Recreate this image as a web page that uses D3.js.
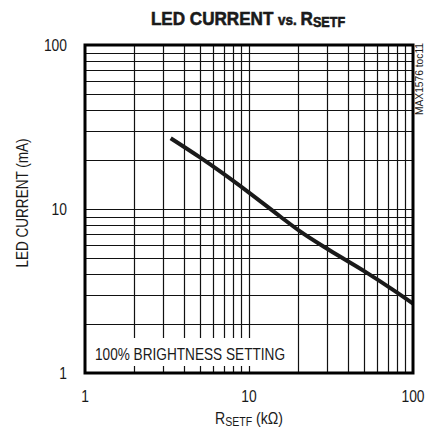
<!DOCTYPE html>
<html>
<head>
<meta charset="utf-8">
<script src="https://cdn.jsdelivr.net/npm/d3@7/dist/d3.min.js"></script>
<style>
  body { margin: 0; background: #fff; }
  svg text { font-family: "Liberation Sans", Arial, sans-serif; fill: #1a1a1a; }
</style>
</head>
<body>
<svg id="chart" width="425" height="434"></svg>
<script>
// LED current vs RSETF, log-log
const rSetf = [3.33, 5.0, 6.7, 10, 15.5, 20.5, 31, 51, 76, 100];
const ledCurrent = [27, 20.7, 16.9, 12.6, 9.0, 7.3, 5.6, 4.15, 3.2, 2.65];
const xTicks = [1, 10, 100];
const yTicks = [1, 10, 100];
const xTickLabels = ["1", "10", "100"];
const yTickLabels = ["1", "10", "100"];

const svg = d3.select("#chart");
const plotL = 85, plotR = 413, plotT = 45, plotB = 373;
const NARROW = 0.84; // fake condensed face

const x = d3.scaleLog().domain([1, 100]).range([plotL, plotR]);
const y = d3.scaleLog().domain([1, 100]).range([plotB, plotT]);

// narrow text anchored at (px, py)
function narrowText(parent, px, py, sx = NARROW) {
  return parent.append("text")
    .attr("transform", `translate(${px},${py}) scale(${sx},1)`);
}

// minor grid values 2..9, 10..90
const gridVals = [];
[1, 10].forEach((d) => {
  for (let k = 2; k <= 9; k++) gridVals.push(k * d);
});
gridVals.push(10);

const grid = svg.append("g");
grid.selectAll("line.v")
  .data(gridVals)
  .join("line")
  .attr("class", "v")
  .attr("x1", (d) => Math.round(x(d)) + 0.5)
  .attr("x2", (d) => Math.round(x(d)) + 0.5)
  .attr("y1", plotT)
  .attr("y2", plotB)
  .attr("stroke", "#111")
  .attr("stroke-width", 1.2);

grid.selectAll("line.h")
  .data(gridVals)
  .join("line")
  .attr("class", "h")
  .attr("y1", (d) => Math.round(y(d)) + 0.5)
  .attr("y2", (d) => Math.round(y(d)) + 0.5)
  .attr("x1", plotL)
  .attr("x2", plotR)
  .attr("stroke", "#111")
  .attr("stroke-width", 1.2);

// label box masks the grid
svg.append("rect")
  .attr("x", plotL + 2)
  .attr("y", 338)
  .attr("width", 204)
  .attr("height", 28)
  .attr("fill", "#fff");

svg.append("text")
  .attr("x", 95)
  .attr("y", 360)
  .attr("font-size", 16.5)
  .attr("textLength", 190)
  .attr("lengthAdjust", "spacingAndGlyphs")
  .text("100% BRIGHTNESS SETTING");

// curve
const line = d3.line()
  .x((d, i) => x(rSetf[i]))
  .y((d) => y(d))
  .curve(d3.curveMonotoneX);

svg.append("path")
  .datum(ledCurrent)
  .attr("d", line)
  .attr("fill", "none")
  .attr("stroke", "#1a1a1a")
  .attr("stroke-width", 4);

// frame
svg.append("rect")
  .attr("x", plotL)
  .attr("y", plotT)
  .attr("width", plotR - plotL)
  .attr("height", plotB - plotT)
  .attr("fill", "none")
  .attr("stroke", "#000")
  .attr("stroke-width", 3);

// tick labels
const xLab = svg.append("g");
xTicks.forEach((d, i) => {
  narrowText(xLab, x(d), 402)
    .attr("text-anchor", "middle")
    .attr("font-size", 16.5)
    .text(xTickLabels[i]);
});

const yLab = svg.append("g");
yTicks.forEach((d, i) => {
  narrowText(yLab, 67, y(d) + 5.5)
    .attr("text-anchor", "end")
    .attr("font-size", 16.5)
    .text(yTickLabels[i]);
});

// title
const title = narrowText(svg, 248, 25, 0.9)
  .attr("text-anchor", "middle")
  .attr("font-size", 19)
  .attr("font-weight", "bold")
  .attr("stroke", "#1a1a1a")
  .attr("stroke-width", 0.6);
title.append("tspan").text("LED CURRENT ");
title.append("tspan").attr("font-size", 15).text("vs. ");
title.append("tspan").text("R");
title.append("tspan").attr("font-size", 14).attr("dy", 2).text("SETF");

// x axis title
const xt = narrowText(svg, 249, 424, 0.88)
  .attr("text-anchor", "middle")
  .attr("font-size", 16);
xt.append("tspan").text("R");
xt.append("tspan").attr("font-size", 12).attr("dy", 2).text("SETF");
xt.append("tspan").attr("dy", -2).text(" (kΩ)");

// y axis title
svg.append("text")
  .attr("transform", "translate(28,203) rotate(-90)")
  .attr("text-anchor", "middle")
  .attr("font-size", 16)
  .attr("textLength", 129)
  .attr("lengthAdjust", "spacingAndGlyphs")
  .text("LED CURRENT (mA)");

// figure id
svg.append("text")
  .attr("transform", "translate(423,79) rotate(-90)")
  .attr("text-anchor", "middle")
  .attr("font-size", 10)
  .attr("textLength", 72)
  .attr("lengthAdjust", "spacingAndGlyphs")
  .attr("fill", "#444")
  .text("MAX1576 toc11");
</script>
</body>
</html>
